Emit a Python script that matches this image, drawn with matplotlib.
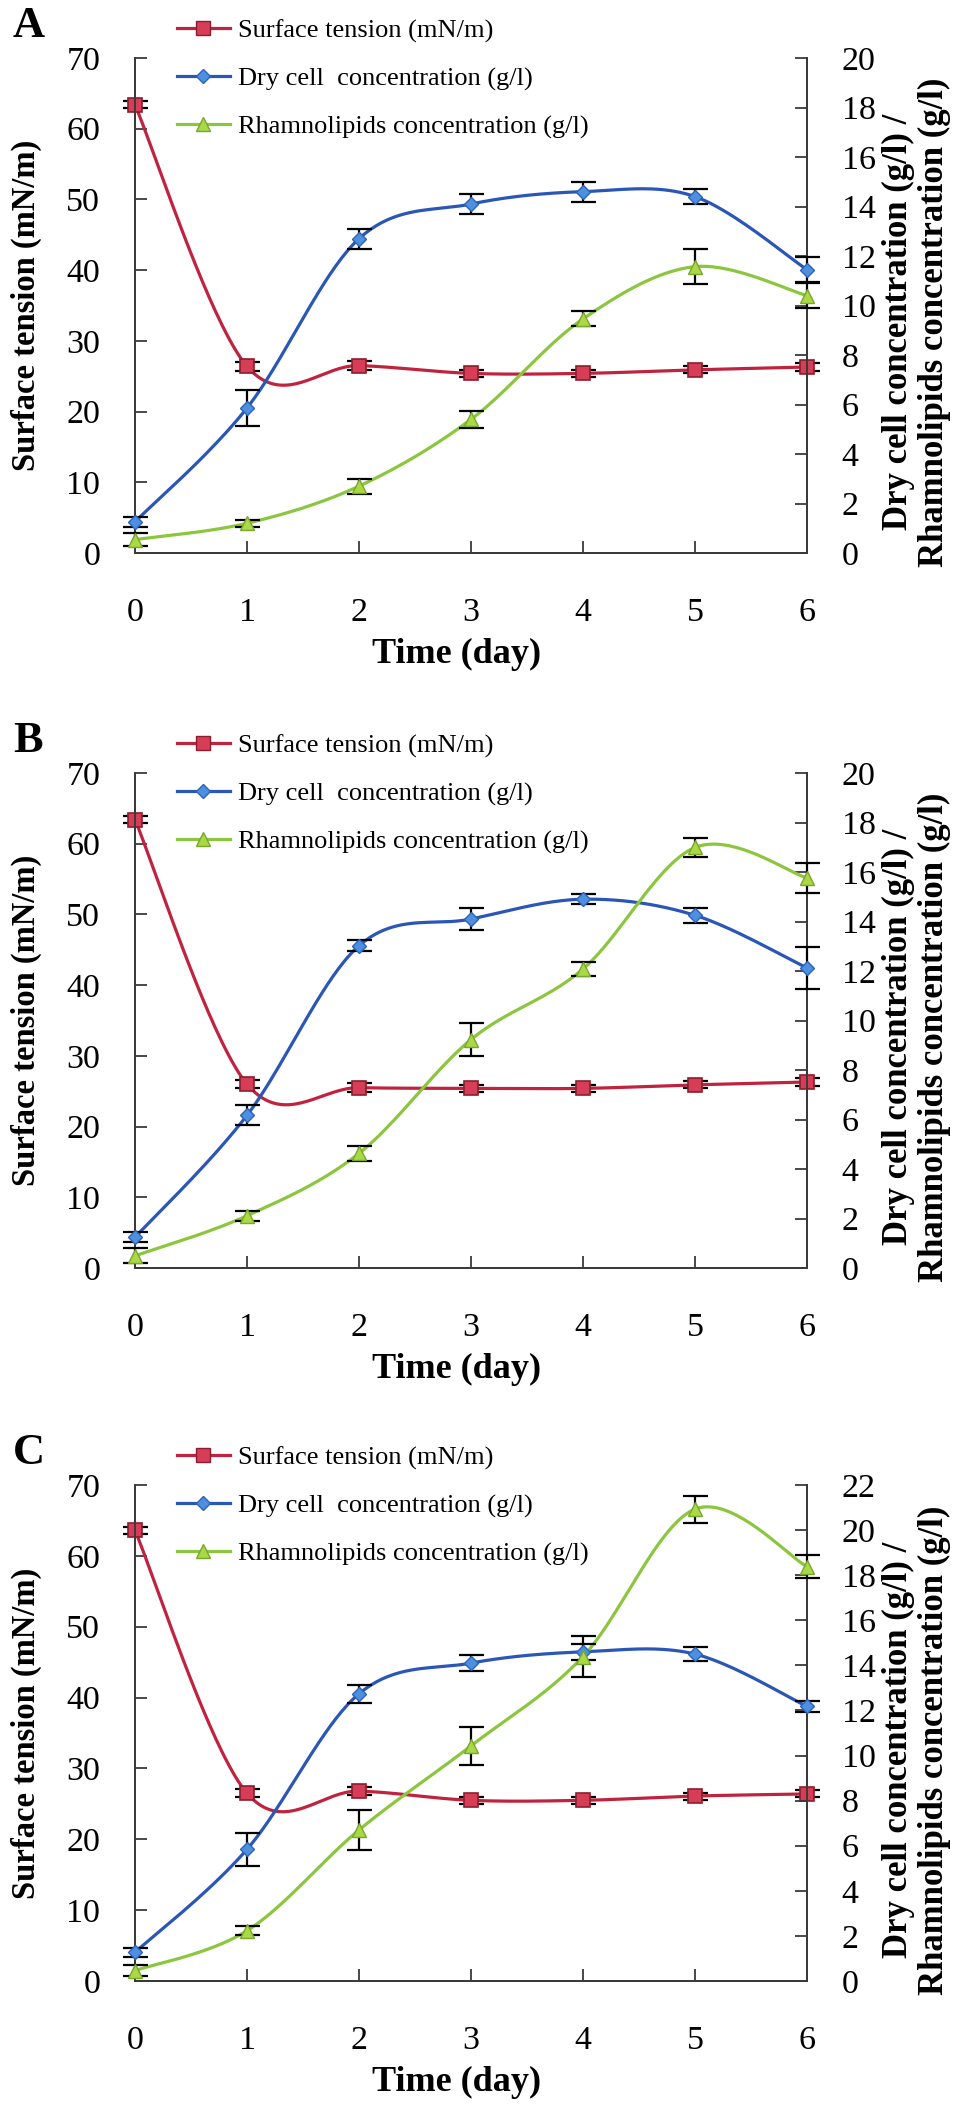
import numpy as np
import matplotlib
matplotlib.use('Agg')
import matplotlib.pyplot as plt
from matplotlib.lines import Line2D

plt.rcParams['font.family'] = ['Liberation Serif', 'DejaVu Serif']

days = [0, 1, 2, 3, 4, 5, 6]

# surface tension (mN/m), left axis
st_a = [63.4, 26.4, 26.5, 25.4, 25.4, 25.9, 26.3]
st_b = [63.4, 26.0, 25.5, 25.4, 25.4, 25.9, 26.3]
st_c = [63.6, 26.5, 26.8, 25.5, 25.5, 26.1, 26.4]
st_err = [0.5, 0.6, 0.6, 0.5, 0.5, 0.5, 0.5]

# dry cell concentration (g/l), right axis
dcw_a = [1.26, 5.86, 12.7, 14.1, 14.6, 14.4, 11.45]
dcw_a_err = [0.2, 0.72, 0.41, 0.42, 0.4, 0.3, 0.5]
dcw_b = [1.24, 6.17, 13.02, 14.1, 14.9, 14.25, 12.12]
dcw_b_err = [0.2, 0.4, 0.23, 0.45, 0.2, 0.3, 0.85]
dcw_c = [1.27, 5.84, 12.74, 14.1, 14.6, 14.5, 12.18]
dcw_c_err = [0.2, 0.72, 0.4, 0.35, 0.35, 0.3, 0.25]

# rhamnolipids concentration (g/l), right axis
rl_a = [0.54, 1.2, 2.7, 5.4, 9.46, 11.57, 10.4]
rl_a_err = [0.25, 0.15, 0.3, 0.33, 0.3, 0.7, 0.5]
rl_b = [0.49, 2.11, 4.63, 9.23, 12.08, 16.99, 15.76]
rl_b_err = [0.3, 0.2, 0.3, 0.65, 0.3, 0.4, 0.6]
rl_c = [0.46, 2.23, 6.7, 10.43, 14.39, 20.93, 18.38]
rl_c_err = [0.25, 0.2, 0.9, 0.84, 0.9, 0.6, 0.5]

panels = ['A', 'B', 'C']
right_max = [20, 20, 22]

labels = ['Surface tension (mN/m)', 'Dry cell  concentration (g/l)',
          'Rhamnolipids concentration (g/l)']

RED, RED_F, RED_E = '#c0233f', '#d63d57', '#8e1c2e'
BLUE, BLUE_F, BLUE_E = '#2a56b8', '#4d90e0', '#2d62b8'
GREEN, GREEN_F, GREEN_E = '#8cc63e', '#a9da45', '#7aa52e'
AXC = '#3a3a3a'


def smooth(x, y, n=40):
    # excel-like smoothed line (catmull-rom bezier)
    x = np.asarray(x, float)
    y = np.asarray(y, float)
    xs, ys = [], []
    t = np.linspace(0, 1, n)
    for i in range(len(x) - 1):
        i0 = max(i - 1, 0)
        i3 = min(i + 2, len(x) - 1)
        c1x = x[i] + (x[i + 1] - x[i0]) / 6
        c1y = y[i] + (y[i + 1] - y[i0]) / 6
        c2x = x[i + 1] - (x[i3] - x[i]) / 6
        c2y = y[i + 1] - (y[i3] - y[i]) / 6
        bx = (1-t)**3*x[i] + 3*(1-t)**2*t*c1x + 3*(1-t)*t**2*c2x + t**3*x[i+1]
        by = (1-t)**3*y[i] + 3*(1-t)**2*t*c1y + 3*(1-t)*t**2*c2y + t**3*y[i+1]
        xs.extend(bx)
        ys.extend(by)
    return xs, ys


fig = plt.figure(figsize=(9.8, 21.1), dpi=100)

W, H = 980, 2110
tops = [58, 773, 1485]
heights = [495, 495, 496]

data = [(st_a, dcw_a, dcw_a_err, rl_a, rl_a_err),
        (st_b, dcw_b, dcw_b_err, rl_b, rl_b_err),
        (st_c, dcw_c, dcw_c_err, rl_c, rl_c_err)]

for k in range(3):
    st, dcw, dcw_err, rl, rl_err = data[k]
    top, hh = tops[k], heights[k]
    ax = fig.add_axes([135 / W, (H - top - hh) / H, 672 / W, hh / H])
    ax2 = ax.twinx()

    ax.set_xlim(0, 6)
    ax.set_ylim(0, 70)
    ax2.set_ylim(0, right_max[k])
    ax.set_xticks(days)
    ax.set_yticks(range(0, 71, 10))
    ax2.set_yticks(range(0, right_max[k] + 1, 2))

    for a in (ax, ax2):
        a.spines['top'].set_visible(False)
        for s in ('left', 'right', 'bottom'):
            a.spines[s].set_color(AXC)
            a.spines[s].set_linewidth(1.4)
        a.tick_params(direction='in', length=8.5, width=1.3, color=AXC,
                      labelsize=24.5, pad=25)
    ax.tick_params(axis='x', pad=32)

    # surface tension
    sx, sy = smooth(days, st)
    ax.plot(sx, sy, color=RED, lw=2.3, zorder=3)
    ax.errorbar(days, st, yerr=st_err, fmt='none', ecolor='black',
                elinewidth=1.6, capsize=9, capthick=1.6, zorder=4, clip_on=False)
    ax.plot(days, st, 's', ms=10, mfc=RED_F, mec=RED_E, mew=1.2,
            zorder=5, clip_on=False)

    # dry cell
    sx, sy = smooth(days, dcw)
    ax2.plot(sx, sy, color=BLUE, lw=2.3, zorder=3)
    ax2.errorbar(days, dcw, yerr=dcw_err, fmt='none', ecolor='black',
                 elinewidth=1.6, capsize=9, capthick=1.6, zorder=4, clip_on=False)
    ax2.plot(days, dcw, 'D', ms=7.5, mfc=BLUE_F, mec=BLUE_E, mew=1.0,
             zorder=5, clip_on=False)

    # rhamnolipids
    sx, sy = smooth(days, rl)
    ax2.plot(sx, sy, color=GREEN, lw=2.3, zorder=3)
    ax2.errorbar(days, rl, yerr=rl_err, fmt='none', ecolor='black',
                 elinewidth=1.6, capsize=9, capthick=1.6, zorder=4, clip_on=False)
    ax2.plot(days, rl, '^', ms=10, mfc=GREEN_F, mec=GREEN_E, mew=1.0,
             zorder=5, clip_on=False)

    ax.set_ylabel('Surface tension (mN/m)', fontsize=23.5, fontweight='bold')
    ax.yaxis.set_label_coords(-0.138, 0.5)
    ax2.set_ylabel('Dry cell concentration (g/l) /\nRhamnolipids concentration (g/l)',
                   fontsize=25, fontweight='bold', linespacing=1.1)
    ax2.yaxis.set_label_coords(1.112, 0.466)
    ax.set_xlabel('Time (day)', fontsize=26, fontweight='bold')
    ax.xaxis.set_label_coords(0.478, -0.172)

    ax.text(-0.1815, 1.065, panels[k], transform=ax.transAxes, fontsize=32,
            fontweight='bold', ha='left', va='center')

    handles = [
        Line2D([], [], color=RED, lw=2.3, marker='s', ms=10, mfc=RED_F, mec=RED_E),
        Line2D([], [], color=BLUE, lw=2.3, marker='D', ms=7.5, mfc=BLUE_F, mec=BLUE_E),
        Line2D([], [], color=GREEN, lw=2.3, marker='^', ms=10, mfc=GREEN_F, mec=GREEN_E),
    ]
    leg = ax2.legend(handles, labels, loc='center left',
                     bbox_to_anchor=(0.0625, 1 - 21 / hh), frameon=False,
                     fontsize=19, handlelength=2.0, handletextpad=0.3,
                     labelspacing=0.92, borderpad=0, borderaxespad=0)
    leg.set_zorder(10)

fig.savefig('out.png', dpi=100)
